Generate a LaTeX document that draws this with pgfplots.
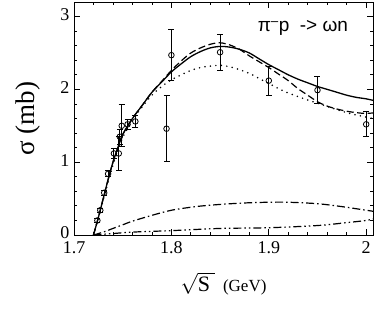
\documentclass[border=0pt]{standalone}
\usepackage{fontspec}
\setmainfont{Liberation Serif}
\newfontfamily\helv{Liberation Sans}
\usepackage{pgfplots}
\pgfplotsset{compat=1.18}

\pgfplotstableread{
x y e
1.724 0.20 0.03
1.727 0.34 0.03
1.731 0.58 0.03
1.735 0.84 0.04
1.741 1.12 0.07
1.746 1.12 0.24
1.747 1.35 0.10
1.749 1.50 0.29
1.755 1.52 0.07
1.763 1.56 0.08
1.795 1.46 0.45
1.800 2.47 0.35
1.850 2.51 0.25
1.900 2.12 0.20
1.950 1.99 0.19
2.000 1.52 0.17
}\data

\begin{document}
\begin{tikzpicture}
\begin{axis}[
  scale only axis,
  width=299pt, height=233pt,
  xmin=1.7, xmax=2.007, ymin=0, ymax=3.2,
  xtick={1.7,1.8,1.9,2.0},
  xticklabels={1.7,1.8,1.9,2},
  ytick={0,1,2,3},
  yticklabels={0,1,2,3},
  minor x tick num=4,
  minor y tick num=4,
  tick align=inside,
  major tick length=6pt,
  minor tick length=3pt,
  tick style={black, line width=0.8pt},
  axis line style={line width=1pt},
  /pgf/number format/assume math mode=true,
  xticklabel style={font=\fontsize{18}{18}\selectfont, inner sep=0.5pt, yshift=-5.5pt},
  yticklabel style={font=\fontsize{18}{18}\selectfont, inner sep=0.5pt, xshift=-4pt, yshift=2pt},
  ylabel={σ (mb)},
  ylabel style={at={(axis description cs:-0.154,0.5)}, anchor=center, font=\fontsize{27}{27}\selectfont},
  xlabel={{\fontsize{22}{22}\selectfont$\sqrt{\mathrm{S}\hspace{5pt}}$}\hspace{8pt}{\fontsize{17}{17}\selectfont(GeV)}},
  xlabel style={at={(axis description cs:0.5,-0.242)}, anchor=base, inner sep=0pt},
  clip=true,
]
% solid
\addplot[black, line width=1.3pt, smooth] coordinates {
(1.720,0) (1.725,0.24) (1.730,0.50) (1.735,0.76) (1.740,1.00) (1.745,1.20) (1.750,1.38)
(1.760,1.60) (1.770,1.78) (1.780,1.96) (1.790,2.10) (1.800,2.24) (1.810,2.35)
(1.820,2.45) (1.830,2.52) (1.840,2.57) (1.850,2.59) (1.860,2.58) (1.870,2.55)
(1.880,2.50) (1.890,2.42) (1.900,2.34) (1.910,2.27) (1.920,2.20) (1.930,2.14)
(1.940,2.09) (1.950,2.04) (1.960,2.00) (1.970,1.96) (1.980,1.92) (1.990,1.89)
(2.000,1.87) (2.010,1.84)};
% dashed
\addplot[black, line width=1.2pt, smooth, dash pattern=on 7pt off 3.5pt] coordinates {
(1.720,0) (1.725,0.24) (1.730,0.50) (1.735,0.76) (1.740,1.00) (1.745,1.20) (1.750,1.38)
(1.760,1.60) (1.770,1.78) (1.780,1.96) (1.790,2.11) (1.800,2.26) (1.810,2.39)
(1.820,2.50) (1.830,2.57) (1.840,2.62) (1.850,2.64) (1.860,2.61) (1.870,2.55)
(1.880,2.46) (1.890,2.38) (1.900,2.30) (1.910,2.21) (1.920,2.12) (1.930,2.01)
(1.940,1.92) (1.950,1.83) (1.960,1.77) (1.970,1.73) (1.980,1.70) (1.990,1.68)
(2.000,1.67) (2.010,1.68)};
% dotted
\addplot[black, line width=1.7pt, smooth, line cap=round, dash pattern=on 0pt off 5.5pt] coordinates {
(1.720,0) (1.730,0.48) (1.740,0.96) (1.750,1.34) (1.760,1.57) (1.770,1.76)
(1.780,1.92) (1.790,2.04) (1.800,2.13) (1.810,2.20) (1.820,2.26) (1.830,2.30)
(1.840,2.32) (1.850,2.33) (1.860,2.31) (1.870,2.27) (1.880,2.22) (1.890,2.15)
(1.900,2.08) (1.920,1.95) (1.950,1.81) (1.980,1.68) (2.000,1.62) (2.010,1.59)};
% dash-dot
\addplot[black, line width=1.2pt, smooth, dash pattern=on 8pt off 3pt on 1.5pt off 3pt] coordinates {
(1.720,0) (1.730,0.04) (1.740,0.09) (1.750,0.14) (1.760,0.19) (1.780,0.27)
(1.800,0.34) (1.825,0.39) (1.850,0.42) (1.875,0.44) (1.900,0.45) (1.920,0.45)
(1.950,0.43) (1.975,0.39) (2.000,0.34) (2.010,0.32)};
% dash-dot-dot
\addplot[black, line width=1.2pt, smooth, dash pattern=on 8pt off 3pt on 1.5pt off 3pt on 1.5pt off 3pt] coordinates {
(1.720,0) (1.740,0.02) (1.760,0.04) (1.800,0.06) (1.850,0.09) (1.900,0.10)
(1.950,0.13) (1.980,0.17) (2.000,0.20) (2.010,0.23)};
% data
\addplot[black, only marks, mark=o, mark size=2.8pt, mark options={line width=0.8pt},
  error bars/.cd, y dir=both, y explicit,
  error mark options={rotate=90, mark size=3pt, line width=0.9pt},
  error bar style={line width=0.9pt}]
  table[x=x, y=y, y error=e] {\data};
\node[font=\helv\fontsize{19}{19}\selectfont] at (axis cs:1.935,2.84) {π\textsuperscript{\raisebox{0pt}{–}}p\ \ -> ωn};
\end{axis}
\path (current axis.south west) ++(-74pt,-81pt) coordinate (bl);
\path (current axis.north east) ++(3pt,2pt) coordinate (tr);
\path (bl) rectangle (tr);
\end{tikzpicture}
\end{document}
